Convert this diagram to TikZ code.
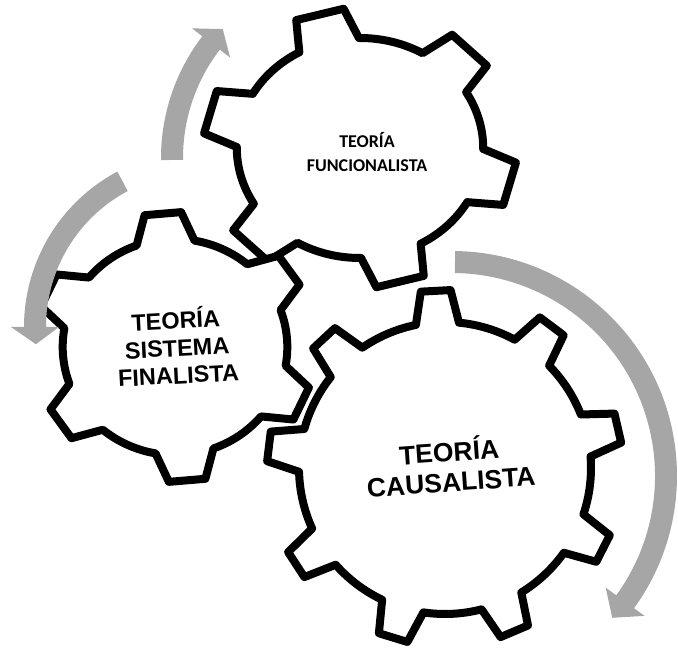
\documentclass[tikz,border=0pt]{standalone}
\usepackage{fontspec}
\newfontfamily\arialfont{Liberation Sans}
\newfontfamily\calibrifont{Carlito}
\definecolor{arrowgray}{RGB}{166,166,166}

\tikzset{
  gearline/.style={draw=black, line width=8pt, fill=white, line join=round},
  arrowband/.style={fill=arrowgray, draw=none},
  gearlabel/.style={align=center, text=black, inner sep=0pt},
}

% gear round the origin: teeth, root radius, tip radius,
% half angle at the root, half angle at the tip
\newcommand{\gearoutline}[5]{%
  \pgfmathsetmacro\gearpitch{360/#1}%
  \path[gearline] ({-#4}:#2)
    \foreach \t in {1,...,#1}{
      -- ({(\t-1)*\gearpitch-#5}:#3) -- ({(\t-1)*\gearpitch+#5}:#3)
      -- ({(\t-1)*\gearpitch+#4}:#2)
      arc[start angle={(\t-1)*\gearpitch+#4}, end angle={\t*\gearpitch-#4}, radius=#2]
    } -- cycle;
}

% curved arrow round the origin: radius, tail angle, head angle, tip angle
\newcommand{\cyclearrow}[4]{%
  \path[arrowband] ({#2}:{#1+11})
    arc[start angle={#2}, end angle={#3}, radius={#1+11}]
    -- ({#3}:{#1+24}) -- ({#4}:{#1}) -- ({#3}:{#1-24}) -- ({#3}:{#1-11})
    arc[start angle={#3}, end angle={#2}, radius={#1-11}] -- cycle;
}

\begin{document}
\begin{tikzpicture}[x=1pt, y=1pt]
  \useasboundingbox (0,0) rectangle (678,653);

  % Centres
  \coordinate (func) at (360,505);
  \coordinate (sist) at (175,306);
  \coordinate (caus) at (445,185);
  \coordinate (arcfunc) at (361,495);
  \coordinate (arcsist) at (200,326);
  \coordinate (arccaus) at (452,177);

  % Gears
  \begin{scope}[shift={(func)}, xscale=1.12, rotate=45]
    \gearoutline{6}{110}{140}{14.5}{9}
  \end{scope}
  \begin{scope}[shift={(sist)}, xscale=1.04, rotate=35]
    \gearoutline{6}{108}{135}{15}{7.5}
  \end{scope}
  \begin{scope}[shift={(caus)}, rotate=13]
    \gearoutline{9}{146}{178}{8.5}{4.8}
  \end{scope}

  % Arrows
  \begin{scope}[shift={(arcfunc)}]
    \cyclearrow{189}{180.6}{142.5}{137}
  \end{scope}
  \begin{scope}[shift={(arcsist)}]
    \cyclearrow{165}{118}{180}{186}
  \end{scope}
  \begin{scope}[shift={(arccaus)}]
    \cyclearrow{214}{89.2}{-36}{-41.5}
  \end{scope}

  % Labels
  \node[gearlabel, font=\calibrifont\bfseries\fontsize{18}{24}\selectfont]
    (funclabel) at (367,501) {TEORÍA\\FUNCIONALISTA};
  \node[gearlabel, rotate=3, font=\arialfont\bfseries\fontsize{23.5}{27.5}\selectfont]
    (sistlabel) at (177,307) {TEORÍA\\SISTEMA\\FINALISTA};
  \node[gearlabel, rotate=4, font=\arialfont\bfseries\fontsize{26.5}{30}\selectfont]
    (causlabel) at (450,188) {TEORÍA\\CAUSALISTA};

\end{tikzpicture}
\end{document}
